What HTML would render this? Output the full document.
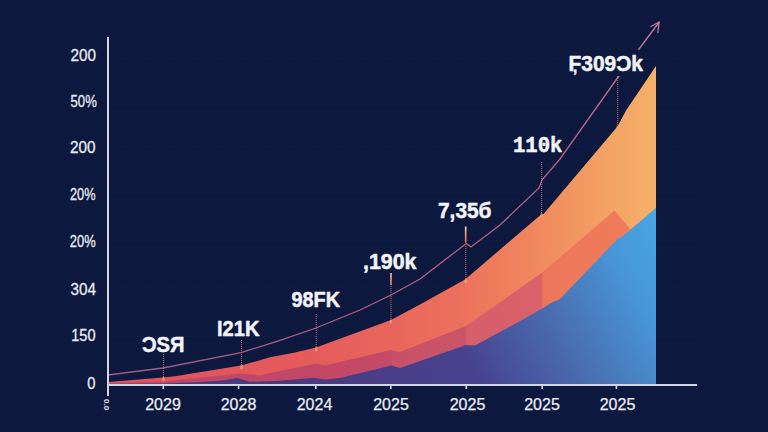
<!DOCTYPE html>
<html><head><meta charset="utf-8"><title>Growth chart</title>
<style>
html,body{margin:0;padding:0;background:#0c183e;width:768px;height:432px;overflow:hidden}
svg{display:block}
.yl{font-family:"Liberation Sans",sans-serif;font-size:16px;fill:#e8eaf2;stroke:#e8eaf2;stroke-width:0.3px}
.xl{font-family:"Liberation Sans",sans-serif;font-size:16px;fill:#eceef5;stroke:#eceef5;stroke-width:0.25px}
.dl{font-family:"Liberation Sans",sans-serif;font-size:22px;font-weight:bold;fill:#f4f5fa;stroke:#f4f5fa;stroke-width:0.5px;stroke-linejoin:round}
</style></head>
<body>
<svg width="768" height="432" viewBox="0 0 768 432">
<defs>
 <linearGradient id="gT" x1="108" y1="0" x2="656" y2="0" gradientUnits="userSpaceOnUse">
  <stop offset="0" stop-color="#de525c"/>
  <stop offset="0.2" stop-color="#e2575c"/>
  <stop offset="0.38" stop-color="#e55c5c"/>
  <stop offset="0.52" stop-color="#e8665c"/>
  <stop offset="0.65" stop-color="#ec725c"/>
  <stop offset="0.79" stop-color="#f08a5e"/>
  <stop offset="0.93" stop-color="#f4a664"/>
  <stop offset="1" stop-color="#f6b06a"/>
 </linearGradient>
 <linearGradient id="gM" x1="108" y1="0" x2="656" y2="0" gradientUnits="userSpaceOnUse">
  <stop offset="0" stop-color="#bc466a"/>
  <stop offset="0.4" stop-color="#c24866"/>
  <stop offset="0.515" stop-color="#c44a67"/>
  <stop offset="0.518" stop-color="#c85068"/>
  <stop offset="0.652" stop-color="#cc5468"/>
  <stop offset="0.655" stop-color="#d65e6a"/>
  <stop offset="0.791" stop-color="#da626a"/>
  <stop offset="0.793" stop-color="#ec765a"/>
  <stop offset="1" stop-color="#f07e5a"/>
 </linearGradient>
 <linearGradient id="gB" x1="300" y1="400" x2="660" y2="200" gradientUnits="userSpaceOnUse">
  <stop offset="0" stop-color="#4a3a80"/>
  <stop offset="0.13" stop-color="#4b3c84"/>
  <stop offset="0.4" stop-color="#47428e"/>
  <stop offset="0.62" stop-color="#4a6aae"/>
  <stop offset="0.85" stop-color="#4898d8"/>
  <stop offset="1" stop-color="#48a8e6"/>
 </linearGradient>
<linearGradient id="gV1" x1="0" y1="273" x2="0" y2="285" gradientUnits="userSpaceOnUse"><stop offset="0" stop-color="#f2c0a0"/><stop offset="1" stop-color="#e07060"/></linearGradient>
 <linearGradient id="gV2" x1="0" y1="226.5" x2="0" y2="242" gradientUnits="userSpaceOnUse"><stop offset="0" stop-color="#f4d0b0"/><stop offset="0.5" stop-color="#eb9a70"/><stop offset="1" stop-color="#e07060"/></linearGradient>
<linearGradient id="gL" x1="108" y1="0" x2="660" y2="0" gradientUnits="userSpaceOnUse"><stop offset="0" stop-color="#9c5c88"/><stop offset="0.5" stop-color="#b05e7c"/><stop offset="0.85" stop-color="#b46282"/><stop offset="1" stop-color="#c07a9a"/></linearGradient>
</defs>
<rect width="768" height="432" fill="#0c183e"/>
<!-- grid -->
<g stroke="#3a4a80" stroke-width="1" stroke-dasharray="1 2" opacity="0.25">
 <line x1="110" y1="59" x2="700" y2="59"/>
 <line x1="110" y1="104.5" x2="700" y2="104.5"/>
 <line x1="110" y1="147" x2="700" y2="147"/>
 <line x1="110" y1="192.5" x2="700" y2="192.5"/>
 <line x1="110" y1="240.5" x2="700" y2="240.5"/>
 <line x1="110" y1="287" x2="700" y2="287"/>
 <line x1="110" y1="336.5" x2="700" y2="336.5"/>
</g>
<!-- areas -->
<polygon fill="url(#gT)" points="108,384 108,382 163,377.5 175,376.3 241,365.6 270,357.3 295,352.6 316,347.5 391,320 420,304.5 465,279.5 540,215.5 543.5,214 617.7,126.3 626,110.5 656,66 656,384"/>
<polygon fill="url(#gM)" points="108,384 108,383.5 163,381.5 225,375 241,373.4 260,375.5 280,371 316,363.5 325,365.5 391,350 400,352 466,326 543,272 614.5,210.5 631,230 656,208 656,384"/>
<polygon fill="url(#gB)" points="108,384 163,383.5 200,382 225,380.2 237,377.9 250,381.8 280,380.8 314,377.7 325,379.5 340,378 391,365.5 400,368 466,345 475,345.5 522,320 543,308 551,303 560,299 617,239.5 623,236 656,208 656,384"/>
<!-- trend line -->
<polyline fill="none" stroke="url(#gL)" stroke-width="1.3" points="108,375 163,368 241,352.7 280,340.3 316,328 360,310 391,295 420,279 465,244.5 466.5,243.5 471,247 500,225 539,188 542,180 560,159 616,80 659.2,22"/>
<polyline fill="none" stroke="#c07a9a" stroke-width="1.3" stroke-linejoin="round" points="650.4,26.7 659.2,22 657.8,33"/>
<!-- dotted verticals -->
<g stroke="#d86272" stroke-width="1.1" stroke-dasharray="1 1" opacity="0.9">
 <line x1="163.5" y1="354" x2="163.5" y2="384"/>
 <line x1="241.5" y1="340" x2="241.5" y2="366"/>
 <line x1="316.2" y1="314" x2="316.2" y2="348"/>
 <line x1="391" y1="284" x2="391" y2="321"/>
 <line x1="465.7" y1="242" x2="465.7" y2="280"/>
 <line x1="541.6" y1="162" x2="541.6" y2="214"/>
 <line x1="617.7" y1="76" x2="617.7" y2="127"/>
</g>
<g stroke-width="1.7">
 <line x1="391" y1="273" x2="391" y2="285" stroke="url(#gV1)"/>
 <line x1="465.7" y1="226.5" x2="465.7" y2="242" stroke="url(#gV2)"/>
</g>
<g fill="#f8b868" opacity="0.6">
 <ellipse cx="163.5" cy="379" rx="1.3" ry="2.6"/>
 <ellipse cx="241.5" cy="367" rx="1.3" ry="2.6"/>
 <ellipse cx="316.2" cy="349" rx="1.3" ry="2.6"/>
 <ellipse cx="391" cy="321.5" rx="1.2" ry="2.2"/>
 <ellipse cx="465.7" cy="281" rx="1.2" ry="2.2"/>
 <ellipse cx="541.6" cy="215" rx="1.2" ry="2.2"/>
 <ellipse cx="617.7" cy="127.5" rx="1.2" ry="2.2"/>
</g>
<!-- axes -->
<rect x="107" y="37" width="2" height="359" fill="#d2d6e4"/>
<rect x="107" y="384" width="590" height="2" fill="#d2d6e4"/>
<g fill="#d2d6e4">
 <rect x="162.5" y="384" width="1.6" height="5"/>
 <rect x="237.8" y="384" width="1.6" height="5"/>
 <rect x="315" y="384" width="1.6" height="5"/>
 <rect x="390" y="384" width="1.6" height="5"/>
 <rect x="465.5" y="384" width="1.6" height="5"/>
 <rect x="541.3" y="384" width="1.6" height="5"/>
 <rect x="615.6" y="384" width="1.6" height="5"/>
</g>
<!-- y labels -->
<g class="yl">
 <text x="70.5" y="61" textLength="25.5" lengthAdjust="spacingAndGlyphs">200</text>
 <text x="70.6" y="107" textLength="26.2" lengthAdjust="spacingAndGlyphs">50%</text>
 <text x="70" y="153" textLength="25.5" lengthAdjust="spacingAndGlyphs">200</text>
 <text x="70" y="200" textLength="25.5" lengthAdjust="spacingAndGlyphs">20%</text>
 <text x="69.8" y="247" textLength="25.8" lengthAdjust="spacingAndGlyphs">20%</text>
 <text x="70.6" y="294.5" textLength="25.4" lengthAdjust="spacingAndGlyphs">304</text>
 <text x="71.2" y="341" textLength="24.4" lengthAdjust="spacingAndGlyphs">150</text>
 <text x="87.3" y="389" textLength="8.2" lengthAdjust="spacingAndGlyphs">0</text>
</g>
<!-- x labels -->
<g class="xl" text-anchor="middle">
 <text x="163" y="410">2029</text>
 <text x="238.5" y="410">2028</text>
 <text x="314.5" y="410">2024</text>
 <text x="391" y="410">2025</text>
 <text x="467.5" y="410">2025</text>
 <text x="542" y="410">2025</text>
 <text x="617.5" y="410">2025</text>
</g>
<text x="0" y="0" transform="translate(104,399) rotate(90)" font-family="Liberation Sans,sans-serif" font-size="8" font-weight="bold" fill="#e0e2ea">0.0</text>
<!-- data labels -->
<rect x="612" y="50" width="34" height="26" fill="#0c183e"/>
<g class="dl">
 <text x="142" y="351.5" textLength="42.5" lengthAdjust="spacingAndGlyphs">ƆSЯ</text>
 <text x="217" y="335.7" textLength="42.5" lengthAdjust="spacingAndGlyphs">I21K</text>
 <text x="291.5" y="307" textLength="48.5" lengthAdjust="spacingAndGlyphs">98FK</text>
 <text x="363" y="269" textLength="53.5" lengthAdjust="spacingAndGlyphs">,190k</text>
 <text x="438" y="218" textLength="53.5" lengthAdjust="spacingAndGlyphs">7,35б</text>
 <text x="513" y="152" textLength="49.5" lengthAdjust="spacingAndGlyphs" font-family="Liberation Mono, monospace">110k</text>
 <text x="568.5" y="70.7" textLength="74.5" lengthAdjust="spacingAndGlyphs">F309Ɔk</text>
 <text x="573" y="72" font-size="15" stroke-width="0.5">,</text>
</g>
</svg>
</body></html>
